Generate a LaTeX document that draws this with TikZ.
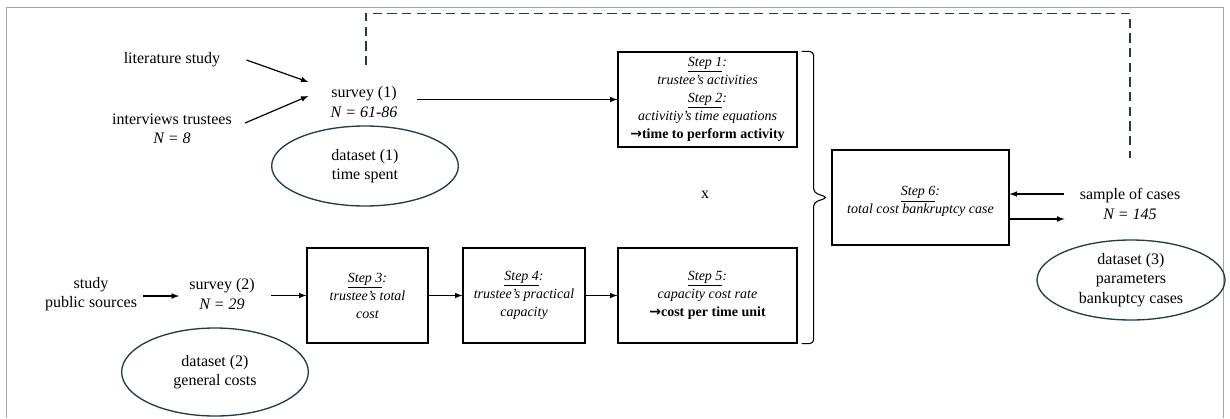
\documentclass[tikz,border=0pt]{standalone}
\usepackage{fontspec}
\setmainfont{Liberation Serif}
\newfontfamily\arrowfont{DejaVu Sans}
\usetikzlibrary{shapes.geometric, arrows, calc}
\definecolor{dataline}{HTML}{1E3D4F}
\newcommand{\resarrow}{{\arrowfont\bfseries →}}
\tikzstyle{source} = [inner sep=0pt, align=center, font=\fontsize{12}{14.5}\selectfont]
\tikzstyle{stepbox} = [rectangle, draw=black, line width=0.9pt, align=center, minimum height=71.25pt, inner sep=2pt, font=\fontsize{10.5}{13.5}\selectfont\itshape]
\tikzstyle{dataset} = [ellipse, draw=dataline, line width=1pt, align=center, minimum width=140pt, minimum height=60pt, inner sep=0pt, font=\fontsize{12}{14.5}\selectfont]
\tikzstyle{arrow} = [line width=0.9pt,->,>=latex]
\tikzstyle{feedback} = [draw=dataline, line width=1pt, dash pattern=on 7pt off 4pt]
\tikzstyle{frame} = [draw=gray!70, line width=0.6pt]

\begin{document}
\begin{tikzpicture}[x=0.75pt, y=-0.75pt]
    \useasboundingbox (0,0) rectangle (1230,418);
    \draw [frame] (6,418) -- (6,7) -- (1223,7) -- (1223,418);

    \node (lit) [source] at (172,60) {literature study};
    \node (intv) [source] at (172,129) {interviews trustees\\ \textit{N = 8}};
    \node (survey1) [source] at (364,102) {survey (1)\\ \textit{N = 61-86}};
    \node (data1) [dataset] at (365,166) {dataset (1)\\ time spent};

    \node (study) [source] at (91,294) {study\\ public sources};
    \node (survey2) [source] at (222,294) {survey (2)\\ \textit{N = 29}};
    \node (data2) [dataset, minimum height=66pt] at (215,372) {dataset (2)\\ general costs};

    \node (step12) [stepbox, minimum width=134.25pt] at (707.5,99.5) {\underline{Step 1}:\\ trustee’s activities\\ \underline{Step 2}:\\ activitiy’s time equations\\ {\upshape\bfseries \resarrow time to perform activity}};
    \node (step3) [stepbox, minimum width=90.75pt] at (367.5,295.5) {\underline{Step 3}:\\ trustee’s total\\ cost};
    \node (step4) [stepbox, minimum width=91.5pt] at (524,295.5) {\underline{Step 4}:\\ trustee’s practical\\ capacity};
    \node (step5) [stepbox, minimum width=134.25pt] at (707.5,295.5) {\underline{Step 5}:\\ capacity cost rate\\ {\upshape\bfseries \resarrow cost per time unit}};
    \node (times) [source] at (705,195) {x};
    \node (step6) [stepbox, minimum width=132.75pt] at (920.5,197.5) {\mbox{}\\ \underline{Step 6}:\\ total cost bankruptcy case};

    \node (sample) [source] at (1130,204) {sample of cases\\ \textit{N = 145}};
    \node (data3) [dataset, minimum width=141pt] at (1131,280) {dataset (3)\\ parameters\\ bankuptcy cases};

    \draw [arrow] ($(lit.east)+(26,0)$) -- ($(survey1.west)+(-22,-20)$);
    \draw [arrow] ($(intv.east)+(13,-6)$) -- ($(survey1.west)+(-22,-6)$);

    \coordinate (s1out) at ($(survey1.east)+(19,0)$);
    \draw [arrow] (s1out |- step12.west) -- (step12.west);

    \draw [arrow] ($(study.east)+(6,2)$) -- ($(survey2.west)+(-10,2)$);
    \coordinate (s2out) at ($(survey2.east)+(16,0)$);
    \draw [arrow] (s2out |- step3.west) -- (step3.west);
    \draw [arrow] (step3) -- (step4);
    \draw [arrow] (step4) -- (step5);

    \coordinate (bracetop) at ($(step12.north east)+(4,0)$);
    \coordinate (bracebot) at ($(step5.south east)+(4,0)$);
    \coordinate (bracetip) at ($(bracetop)!0.5!(bracebot)+(26,0)$);
    \draw [thick, rounded corners=3pt] (bracetop) -| ($(bracetip)+(-14,-5)$) -- (bracetip) -- ($(bracetip)+(-14,5)$) |- (bracebot);

    \draw [arrow] ($(sample.west)+(-16,-10)$) -- ($(step6.east)+(0,-3.5)$);
    \draw [arrow] ($(step6.east)+(0,21.5)$) -- ($(sample.west)+(-15,15)$);

    \draw [feedback] ($(survey1.north)+(2,-21)$) -- ++(0,-52) -| ($(sample.north)+(0,-30)$);
\end{tikzpicture}
\end{document}
